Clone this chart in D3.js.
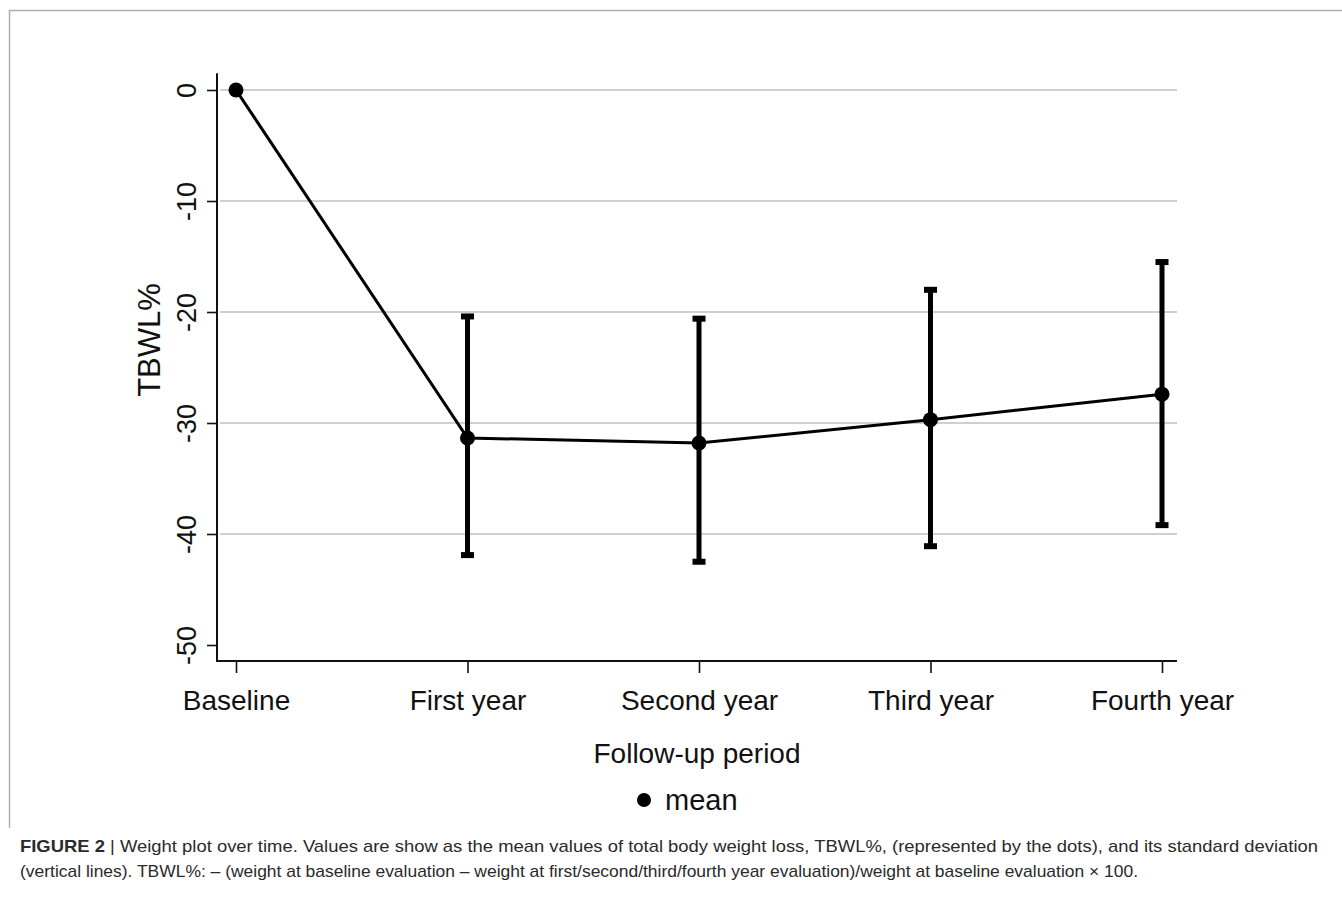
<!DOCTYPE html>
<html><head><meta charset="utf-8">
<script src="https://cdn.jsdelivr.net/npm/d3@7"></script>
<style>body{margin:0;background:#fff}svg{display:block}</style>
</head><body>
<svg id="c" width="1342" height="911"></svg>
<script>
const categories = ["Baseline","First year","Second year","Third year","Fourth year"];
const meanValues = [0, -31.35, -31.8, -29.7, -27.4];
const upperValues = [null, -20.4, -20.6, -18.0, -15.5];
const lowerValues = [null, -41.9, -42.5, -41.1, -39.2];
const yTicks = [0, -10, -20, -30, -40, -50];
const xTitle = "Follow-up period";
const yTitle = "TBWL%";
const legendLabel = "mean";
const captionBold = "FIGURE 2";
const captionLine1 = " | Weight plot over time. Values are show as the mean values of total body weight loss, TBWL%, (represented by the dots), and its standard deviation";
const captionLine2 = "(vertical lines). TBWL%: \u2013 (weight at baseline evaluation \u2013 weight at first/second/third/fourth year evaluation)/weight at baseline evaluation \u00d7 100.";

const svg = d3.select("#c");
const font = "'Liberation Sans', Arial, sans-serif";

// outer frame
svg.append("path").attr("d","M9.5,828 V10.5 H1342").attr("fill","none").attr("stroke","#b0b0b0").attr("stroke-width",1.5);

const x = d3.scalePoint().domain(categories).range([236,1162]);
const y = d3.scaleLinear().domain([-50,0]).range([645,90]);
const axX = 217, axRight = 1177;

// gridlines
svg.append("g").selectAll("line").data(yTicks.filter(d=>d!==-50)).join("line")
  .attr("x1",axX+3).attr("x2",axRight).attr("y1",d=>y(d)).attr("y2",d=>y(d))
  .attr("stroke","#cfcfcf").attr("stroke-width",2);

// y axis
const yAxis = d3.axisLeft(y).tickValues(yTicks).tickSize(10).tickFormat(d=>String(d));
const gy = svg.append("g").attr("transform",`translate(${axX},0)`).call(yAxis);
gy.select(".domain").remove();
gy.selectAll(".tick line").attr("stroke","#111").attr("stroke-width",1.6);
gy.selectAll(".tick text").attr("font-family",font).attr("font-size",27).attr("fill","#111")
  .attr("x",0).attr("y",0).attr("text-anchor","middle")
  .attr("transform","translate(-31,0) rotate(-90)").attr("dy","0.36em");
svg.append("line").attr("x1",axX).attr("x2",axX).attr("y1",y(1.5)).attr("y2",661.8).attr("stroke","#111").attr("stroke-width",2);

// x axis
const xAxis = d3.axisBottom(x).tickSize(12).tickPadding(12);
const gx = svg.append("g").attr("transform","translate(0,661)").call(xAxis);
gx.select(".domain").remove();
gx.selectAll(".tick line").attr("stroke","#111").attr("stroke-width",1.6);
gx.selectAll(".tick text").attr("font-family",font).attr("font-size",28).attr("fill","#111").attr("dy","0.88em");
svg.append("line").attr("x1",axX-1).attr("x2",axRight).attr("y1",661).attr("y2",661).attr("stroke","#111").attr("stroke-width",2);

// error bars
const eb = categories.map((c,i)=>({c,lo:lowerValues[i],hi:upperValues[i]})).filter(d=>d.lo!==null);
const g = svg.append("g");
g.selectAll("line.eb").data(eb).join("line").attr("class","eb")
  .attr("x1",d=>x(d.c)).attr("x2",d=>x(d.c)).attr("y1",d=>y(d.hi)).attr("y2",d=>y(d.lo))
  .attr("stroke","#000").attr("stroke-width",5);
g.selectAll("rect.capt").data(eb).join("rect").attr("class","capt")
  .attr("x",d=>x(d.c)-6.5).attr("y",d=>y(d.hi)-3).attr("width",13).attr("height",6).attr("fill","#000");
g.selectAll("rect.capb").data(eb).join("rect").attr("class","capb")
  .attr("x",d=>x(d.c)-6.5).attr("y",d=>y(d.lo)-3).attr("width",13).attr("height",6).attr("fill","#000");

// mean line
const pts = categories.map((c,i)=>({c,v:meanValues[i]}));
g.append("path").datum(pts).attr("d",d3.line().x(d=>x(d.c)).y(d=>y(d.v)))
  .attr("fill","none").attr("stroke","#000").attr("stroke-width",3);
g.selectAll("circle").data(pts).join("circle").attr("cx",d=>x(d.c)).attr("cy",d=>y(d.v)).attr("r",7.5).attr("fill","#000");

// titles
svg.append("text").attr("x",(axX+axRight)/2).attr("y",763).attr("text-anchor","middle")
  .attr("font-family",font).attr("font-size",28).attr("fill","#111").text(xTitle);
svg.append("text").attr("transform","translate(160,340) rotate(-90)").attr("text-anchor","middle")
  .attr("font-family",font).attr("font-size",31).attr("fill","#111").text(yTitle);

// legend
svg.append("circle").attr("cx",644).attr("cy",800).attr("r",7).attr("fill","#000");
svg.append("text").attr("x",665).attr("y",810).attr("font-family",font).attr("font-size",29).attr("fill","#111").text(legendLabel);

// caption
const cap1 = svg.append("text").attr("x",20).attr("y",852).attr("font-family",font).attr("font-size",17).attr("fill","#2a2a2a")
  .attr("textLength",1298).attr("lengthAdjust","spacingAndGlyphs");
cap1.append("tspan").attr("font-weight","bold").text(captionBold);
cap1.append("tspan").text(captionLine1);
svg.append("text").attr("x",20).attr("y",877).attr("font-family",font).attr("font-size",17).attr("fill","#2a2a2a")
  .attr("textLength",1118).attr("lengthAdjust","spacingAndGlyphs").text(captionLine2);
</script>
</body></html>
